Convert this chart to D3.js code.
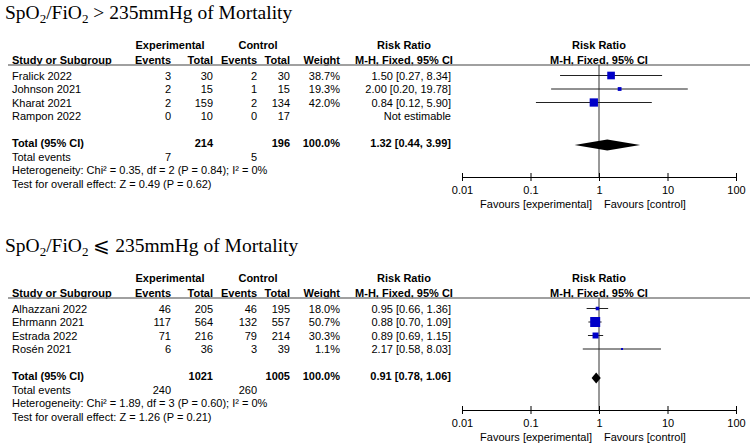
<!DOCTYPE html>
<html><head><meta charset="utf-8">
<script src="https://cdn.jsdelivr.net/npm/d3@7/dist/d3.min.js"></script>
<style>
body{margin:0;background:#fff}
svg{display:block}
text{font-family:"Liberation Sans",Arial,sans-serif;font-size:11px;fill:#000}
.ttl{font-family:"Liberation Serif","Times New Roman",serif;font-size:19.5px}
.b{font-weight:bold}
</style>
</head><body>
<svg id="c" width="750" height="444"></svg>
<script>
// ---------- data ----------
const titleOps = [">", "\u2A7D"];
const tickValues = [0.01, 0.1, 1, 10, 100];
const tickLabels = ["0.01", "0.1", "1", "10", "100"];
const favLabels = ["Favours [experimental]", "Favours [control]"];

// Panel 1: SpO2/FiO2 > 235mmHg
const studies1 = ["Fralick 2022", "Johnson 2021", "Kharat 2021", "Rampon 2022"];
const expEvents1 = [3, 2, 2, 0];
const expTotal1 = [30, 15, 159, 10];
const ctrlEvents1 = [2, 1, 2, 0];
const ctrlTotal1 = [30, 15, 134, 17];
const weight1 = [38.7, 19.3, 42.0, null];
const rr1 = [1.50, 2.00, 0.84, null];
const lo1 = [0.27, 0.20, 0.12, null];
const hi1 = [8.34, 19.78, 5.90, null];
const total1 = [214, 196, 100.0, 1.32, 0.44, 3.99]; // expTotal, ctrlTotal, weight, rr, lo, hi
const events1 = [7, 5];
const het1 = "Heterogeneity: Chi\u00B2 = 0.35, df = 2 (P = 0.84); I\u00B2 = 0%";
const test1 = "Test for overall effect: Z = 0.49 (P = 0.62)";

// Panel 2: SpO2/FiO2 <= 235mmHg
const studies2 = ["Alhazzani 2022", "Ehrmann 2021", "Estrada 2022", "Ros\u00E9n 2021"];
const expEvents2 = [46, 117, 71, 6];
const expTotal2 = [205, 564, 216, 36];
const ctrlEvents2 = [46, 132, 79, 3];
const ctrlTotal2 = [195, 557, 214, 39];
const weight2 = [18.0, 50.7, 30.3, 1.1];
const rr2 = [0.95, 0.88, 0.89, 2.17];
const lo2 = [0.66, 0.70, 0.69, 0.58];
const hi2 = [1.36, 1.09, 1.15, 8.03];
const total2 = [1021, 1005, 100.0, 0.91, 0.78, 1.06];
const events2 = [240, 260];
const het2 = "Heterogeneity: Chi\u00B2 = 1.89, df = 3 (P = 0.60); I\u00B2 = 0%";
const test2 = "Test for overall effect: Z = 1.26 (P = 0.21)";

// ---------- drawing ----------
const svg = d3.select("#c");
const panels = [
  {op: titleOps[0], studies: studies1, ee: expEvents1, et: expTotal1, ce: ctrlEvents1, ct: ctrlTotal1, w: weight1, rr: rr1, lo: lo1, hi: hi1, tot: total1, ev: events1, het: het1, test: test1, dy: 0},
  {op: titleOps[1], studies: studies2, ee: expEvents2, et: expTotal2, ce: ctrlEvents2, ct: ctrlTotal2, w: weight2, rr: rr2, lo: lo2, hi: hi2, tot: total2, ev: events2, het: het2, test: test2, dy: 233}
];

const x = d3.scaleLog().domain([0.01, 100]).range([462, 736]);
const sq = d3.scaleLinear().domain([0, 50.7]).range([0, 10]);
const C = {study: 12, ee: 171, et: 213, ce: 257, ct: 290, w: 340, rrR: 451, rrC: 404};
const fmt2 = d3.format(".2f");
const ciText = (r, l, h) => `${fmt2(r)} [${fmt2(l)}, ${fmt2(h)}]`;

panels.forEach(p => {
  const g = svg.append("g").attr("transform", `translate(0,${p.dy})`);
  const T = (xx, yc, s, anchor = "start", cls = "") =>
    g.append("text").attr("x", xx).attr("y", yc + 4).attr("text-anchor", anchor).attr("class", cls).text(s);

  // title
  const t = g.append("text").attr("class", "ttl").attr("x", 5).attr("y", 19);
  t.append("tspan").text("SpO");
  t.append("tspan").attr("dy", 4).style("font-size", "13px").text("2");
  t.append("tspan").attr("dy", -4).text("/FiO");
  t.append("tspan").attr("dy", 4).style("font-size", "13px").text("2");
  t.append("tspan").attr("dy", -4).text(` ${p.op} 235mmHg of Mortality`);

  // headers
  T(170, 45, "Experimental", "middle", "b");
  T(258, 45, "Control", "middle", "b");
  T(C.rrC, 45, "Risk Ratio", "middle", "b");
  T(x(1), 45, "Risk Ratio", "middle", "b");
  T(C.study, 59.5, "Study or Subgroup", "start", "b");
  T(C.ee, 59.5, "Events", "end", "b");
  T(C.et, 59.5, "Total", "end", "b");
  T(C.ce, 59.5, "Events", "end", "b");
  T(C.ct, 59.5, "Total", "end", "b");
  T(C.w, 59.5, "Weight", "end", "b");
  T(C.rrC, 59.5, "M-H, Fixed, 95% CI", "middle", "b");
  T(x(1), 59.5, "M-H, Fixed, 95% CI", "middle", "b");

  g.append("line").attr("x1", 8).attr("x2", 750).attr("y1", 65).attr("y2", 65)
    .attr("stroke", "#808080").attr("stroke-width", 1.5);

  const rowY = i => 75.5 + i * 13.5;
  const yTot = rowY(5), yEv = rowY(6), yHet = rowY(7), yTest = rowY(8);
  const axisY = 177;

  // vertical line of no effect
  g.append("line").attr("x1", x(1)).attr("x2", x(1)).attr("y1", 65).attr("y2", axisY)
    .attr("stroke", "#333").attr("stroke-width", 1);

  p.studies.forEach((s, i) => {
    const y = rowY(i);
    T(C.study, y, s);
    T(C.ee, y, p.ee[i], "end");
    T(C.et, y, p.et[i], "end");
    T(C.ce, y, p.ce[i], "end");
    T(C.ct, y, p.ct[i], "end");
    if (p.rr[i] == null) {
      T(C.rrR, y, "Not estimable", "end");
      return;
    }
    T(C.w, y, p.w[i].toFixed(1) + "%", "end");
    T(C.rrR, y, ciText(p.rr[i], p.lo[i], p.hi[i]), "end");
    g.append("line").attr("x1", x(p.lo[i])).attr("x2", x(p.hi[i])).attr("y1", y).attr("y2", y)
      .attr("stroke", "#222").attr("stroke-width", 1);
    const s2 = Math.max(2, sq(p.w[i]));
    g.append("rect").attr("x", x(p.rr[i]) - s2 / 2).attr("y", y - s2 / 2)
      .attr("width", s2).attr("height", s2).attr("fill", "#0000c8");
  });

  // totals
  T(C.study, yTot, "Total (95% CI)", "start", "b");
  T(C.et, yTot, p.tot[0], "end", "b");
  T(C.ct, yTot, p.tot[1], "end", "b");
  T(C.w, yTot, p.tot[2].toFixed(1) + "%", "end", "b");
  T(C.rrR, yTot, ciText(p.tot[3], p.tot[4], p.tot[5]), "end", "b");
  const dyd = yTot + 2;
  g.append("path").attr("fill", "#000")
    .attr("d", `M${x(p.tot[4])},${dyd} L${x(p.tot[3])},${dyd - 5.5} L${x(p.tot[5])},${dyd} L${x(p.tot[3])},${dyd + 5.5} Z`);

  T(C.study, yEv, "Total events");
  T(C.ee, yEv, p.ev[0], "end");
  T(C.ce, yEv, p.ev[1], "end");
  T(C.study, yHet, p.het);
  T(C.study, yTest, p.test);

  // axis
  const ax = d3.axisBottom(x).tickValues(tickValues).tickFormat((d, i) => tickLabels[i])
    .tickSizeInner(4).tickSizeOuter(0).tickPadding(5);
  const ag = g.append("g").attr("transform", `translate(0,${axisY})`).call(ax);
  ag.select(".domain").attr("stroke", "#000");
  ag.selectAll(".tick line").attr("y1", -4).attr("y2", 4).attr("stroke", "#000");
  ag.selectAll(".tick text").style("font-family", "'Liberation Sans',Arial,sans-serif").style("font-size", "11px").attr("fill", "#000");

  T(x(1) - 7, 203.5, favLabels[0], "end");
  T(x(1) + 5, 203.5, favLabels[1], "start");
});
</script>
</body></html>
